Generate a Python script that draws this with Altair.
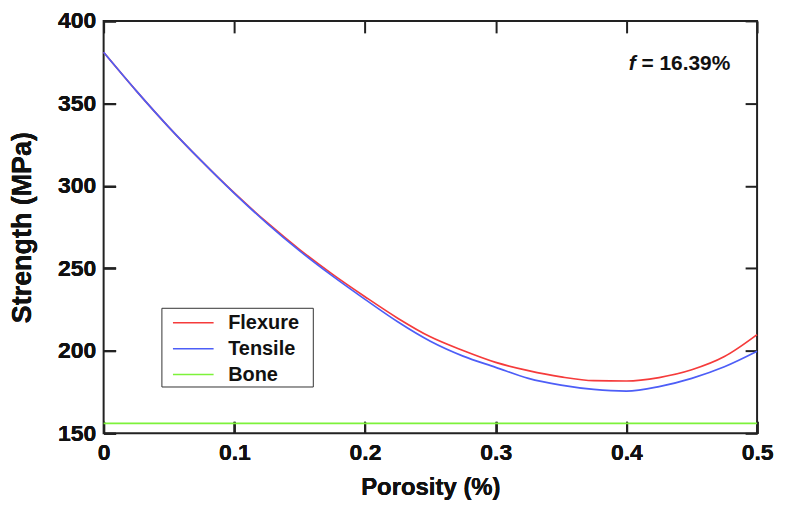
import altair as alt
import pandas as pd

porosity = [0, 0.025, 0.05, 0.075, 0.1, 0.125, 0.15, 0.175, 0.2, 0.225, 0.25,
            0.275, 0.3, 0.325, 0.35, 0.375, 0.4, 0.425, 0.45, 0.475, 0.5]
flexure = [381, 357.6, 335.5, 315, 295.7, 277.8, 261.4, 246.5, 232.8, 219.8, 208.5,
           200.2, 193, 188, 184.2, 181.9, 181.7, 183.8, 188.5, 196.5, 209.8]
tensile = [381, 357.6, 335.5, 315, 295.5, 277.3, 260.6, 245.4, 231.2, 217.6, 205.8,
           196.8, 190, 183.3, 179.2, 176.6, 175.6, 178.3, 183.3, 190.3, 199.7]
bone_x = [0, 0.5]
bone_y = [156, 156]

series_names = ["Flexure", "Tensile", "Bone"]
series_colors = ["#f53b3b", "#4d5ef7", "#7df23a"]

x_ticks = [0, 0.1, 0.2, 0.3, 0.4, 0.5]
y_ticks = [150, 200, 250, 300, 350, 400]

annot_f = pd.DataFrame({"x": [0.4018], "y": [374], "t": ["f"]})
annot_v = pd.DataFrame({"x": [0.4115], "y": [374], "t": ["= 16.39%"]})

df = pd.concat([
    pd.DataFrame({"p": porosity, "s": flexure, "series": "Flexure"}),
    pd.DataFrame({"p": porosity, "s": tensile, "series": "Tensile"}),
    pd.DataFrame({"p": bone_x, "s": bone_y, "series": "Bone"}),
])

FONT = "Liberation Sans"
TICK = "#222222"

xscale = alt.Scale(domain=[0, 0.5], nice=False, zero=False)
yscale = alt.Scale(domain=[150, 400], nice=False, zero=False)
cscale = alt.Scale(domain=series_names, range=series_colors)

x_bottom = alt.Axis(orient="bottom", values=x_ticks, format="~g", domain=False, grid=False,
                    offset=-12, ticks=True, tickSize=12, tickWidth=2, tickColor=TICK,
                    labelFlush=False,
                    labelFont=FONT, labelFontSize=23, labelFontWeight="bold", labelColor="#111",
                    labelPadding=8, title="Porosity (%)", titleFont=FONT, titleFontSize=24,
                    titleFontWeight="bold", titleColor="#111", titlePadding=11)
y_left = alt.Axis(orient="left", values=y_ticks, domain=False, grid=False,
                  offset=-12, ticks=True, tickSize=12, tickWidth=2, tickColor=TICK,
                  labelFlush=False,
                  labelFont=FONT, labelFontSize=23, labelFontWeight="bold", labelColor="#111",
                  labelPadding=8, title="Strength (MPa)", titleFont=FONT, titleFontSize=27,
                  titleFontWeight="bold", titleColor="#111", titlePadding=21)
x_top = alt.Axis(orient="top", values=x_ticks, domain=False, grid=False, labels=False,
                 offset=-12, ticks=True, tickSize=12, tickWidth=2, tickColor=TICK, title=None)
y_right = alt.Axis(orient="right", values=y_ticks, domain=False, grid=False, labels=False,
                   offset=-12, ticks=True, tickSize=12, tickWidth=2, tickColor=TICK, title=None)

legend = alt.Legend(orient="none", legendX=58, legendY=288, title=None,
                    symbolType="M-1.7,0H1.7", symbolSize=576, symbolStrokeWidth=1.5,
                    symbolOffset=17, labelOffset=22, padding=2, rowPadding=3,
                    labelFont=FONT, labelFontSize=20, labelFontWeight="bold", labelColor="#111",
                    labelExpr="datum.label + '\u00a0\u00a0\u200b'",
                    strokeColor="#333", fillColor="white")


def line_layer(name):
    return alt.Chart(df).transform_filter(alt.datum.series == name).mark_line(
        strokeWidth=1.7, interpolate="monotone"
    ).encode(
        x=alt.X("p:Q", scale=xscale, axis=x_bottom),
        y=alt.Y("s:Q", scale=yscale, axis=y_left),
        color=alt.Color("series:N", scale=cscale, legend=legend),
    )


flex_l = line_layer("Flexure")
tens_l = line_layer("Tensile")
bone_l = line_layer("Bone")

mirror = alt.Chart(df).transform_filter(alt.datum.series == "Bone").mark_point(opacity=0).encode(
    x=alt.X("p:Q", scale=xscale, axis=x_top),
    y=alt.Y("s:Q", scale=yscale, axis=y_right),
)

txt_f = alt.Chart(annot_f).mark_text(
    font=FONT, fontSize=21, fontWeight="bold", fontStyle="italic", align="left",
    baseline="middle", color="#111"
).encode(x=alt.X("x:Q", scale=xscale, axis=None), y=alt.Y("y:Q", scale=yscale, axis=None),
         text="t:N")
txt_v = alt.Chart(annot_v).mark_text(
    font=FONT, fontSize=21, fontWeight="bold", align="left", baseline="middle", color="#111"
).encode(x=alt.X("x:Q", scale=xscale, axis=None), y=alt.Y("y:Q", scale=yscale, axis=None),
         text="t:N")

chart = alt.layer(flex_l, tens_l, bone_l, mirror, txt_f, txt_v).resolve_axis(
    x="independent", y="independent"
).properties(
    width=656, height=414,
    padding={"left": 96, "top": 12, "right": 20, "bottom": 70},
    autosize=alt.AutoSizeParams(type="none"),
    background="white",
).configure_view(stroke="#222", strokeWidth=2)

chart.save("out.html", embed_options={"renderer": "svg", "actions": False})
